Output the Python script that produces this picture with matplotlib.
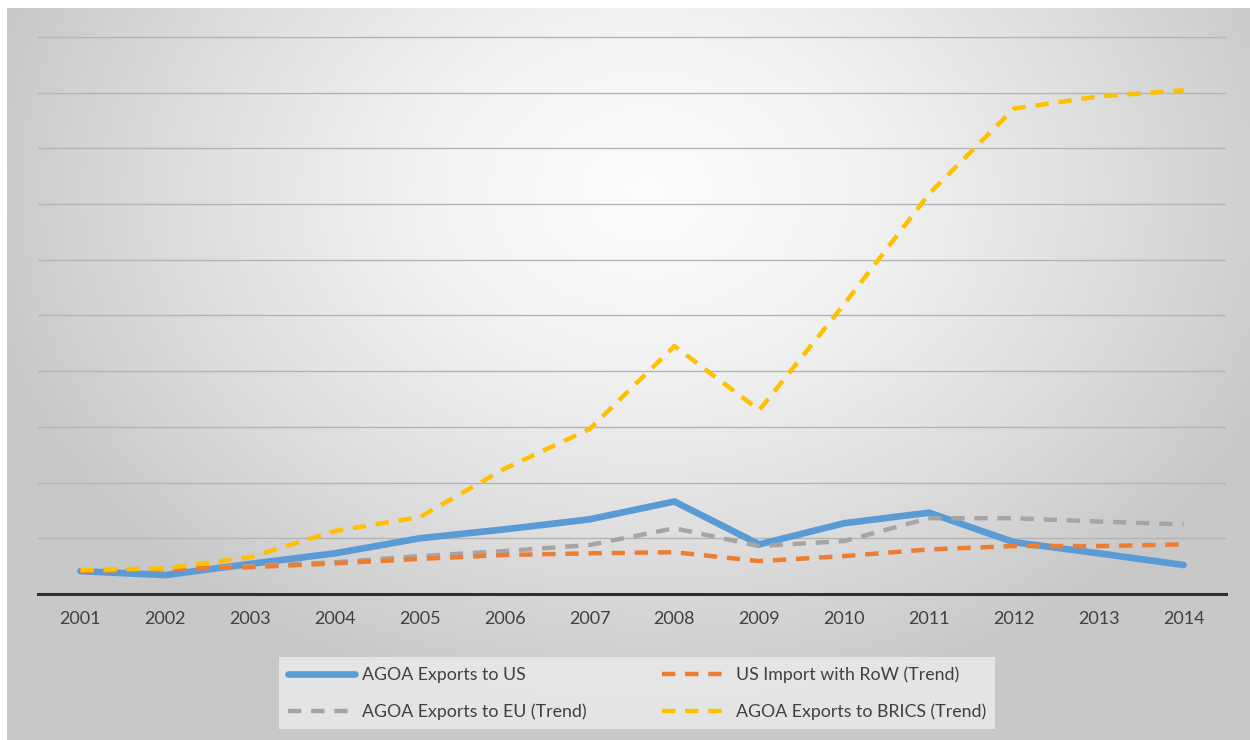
import numpy as np
import matplotlib.pyplot as plt
from matplotlib.colors import LinearSegmentedColormap

plt.rcParams['font.family'] = ['Lato', 'DejaVu Sans']

years = ['2001', '2002', '2003', '2004', '2005', '2006', '2007',
         '2008', '2009', '2010', '2011', '2012', '2013', '2014']
exports_us = [0.41, 0.34, 0.54, 0.73, 1.00, 1.16, 1.34, 1.66, 0.89, 1.27, 1.46, 0.93, 0.73, 0.52]
exports_eu = [0.41, 0.45, 0.50, 0.57, 0.68, 0.77, 0.88, 1.18, 0.86, 0.95, 1.36, 1.36, 1.30, 1.25]
import_row = [0.41, 0.45, 0.48, 0.55, 0.63, 0.70, 0.73, 0.75, 0.59, 0.68, 0.80, 0.86, 0.86, 0.89]
exports_brics = [0.43, 0.46, 0.66, 1.13, 1.38, 2.25, 2.96, 4.45, 3.30, 5.20, 7.18, 8.71, 8.93, 9.04]

W, H = 1250, 740
fig = plt.figure(figsize=(W / 100, H / 100), dpi=100, facecolor='white')

# radial grey-to-white background of the chart area
bg = fig.add_axes([7 / W, 0, 1 - 7 / W, 1 - 8 / H])
gx, gy = np.meshgrid(np.linspace(-1, 1, 600), np.linspace(-1, 1, 360))
r = np.sqrt(((gx - 0.03) / 1.1) ** 2 + ((gy + 0.5) / 1.45) ** 2)
cmap = LinearSegmentedColormap.from_list('bg', ['#fcfcfc', '#f2f2f2', '#dedede', '#c8c8c8'])
bg.imshow(np.clip(r, 0, 1.0), cmap=cmap, vmin=0, vmax=1.0, aspect='auto',
          extent=[0, 1, 0, 1], origin='upper')
bg.set_axis_off()

ax = fig.add_axes([38 / W, 1 - 594 / H, (1226 - 38) / W, (594 - 34) / H])
ax.patch.set_alpha(0)
x = np.arange(len(years))

ax.plot(x, exports_us, color='#5B9BD5', lw=4.8, solid_capstyle='round',
        label='AGOA Exports to US')
ax.plot(x, exports_eu, color='#A5A5A5', lw=3.2, dashes=(3, 2.2),
        label='AGOA Exports to EU (Trend)')
ax.plot(x, import_row, color='#ED7D31', lw=3.2, dashes=(3, 2.2),
        label='US Import with RoW (Trend)')
ax.plot(x, exports_brics, color='#FFC000', lw=3.2, dashes=(3, 2.2),
        label='AGOA Exports to BRICS (Trend)')

ax.set_xlim(-0.5, len(years) - 0.5)
ax.set_ylim(0, 10.05)
ax.set_yticks(np.arange(1, 11))
ax.yaxis.grid(True, color='#b4b4b4', lw=1.0)
ax.set_axisbelow(True)
ax.tick_params(axis='y', left=False, labelleft=False)
ax.set_xticks(x)
ax.set_xticklabels(years, fontsize=13, color='#404040')
ax.tick_params(axis='x', length=0, pad=12)
for s in ['top', 'right', 'left']:
    ax.spines[s].set_visible(False)
ax.spines['bottom'].set_color('#2f2f2f')
ax.spines['bottom'].set_linewidth(2.2)

leg = fig.legend(loc='center', bbox_to_anchor=(637 / W, 1 - 693 / H), ncol=2,
                 frameon=True, fontsize=12.8, handlelength=3.8, handletextpad=0.4,
                 columnspacing=4.2, labelspacing=1.15, borderpad=0.5, fancybox=False)
leg.get_frame().set_facecolor('#eaeaea')
leg.get_frame().set_edgecolor('none')
leg.get_frame().set_alpha(0.85)
for t in leg.get_texts():
    t.set_color('#404040')

fig.savefig('out.png', dpi=100)
